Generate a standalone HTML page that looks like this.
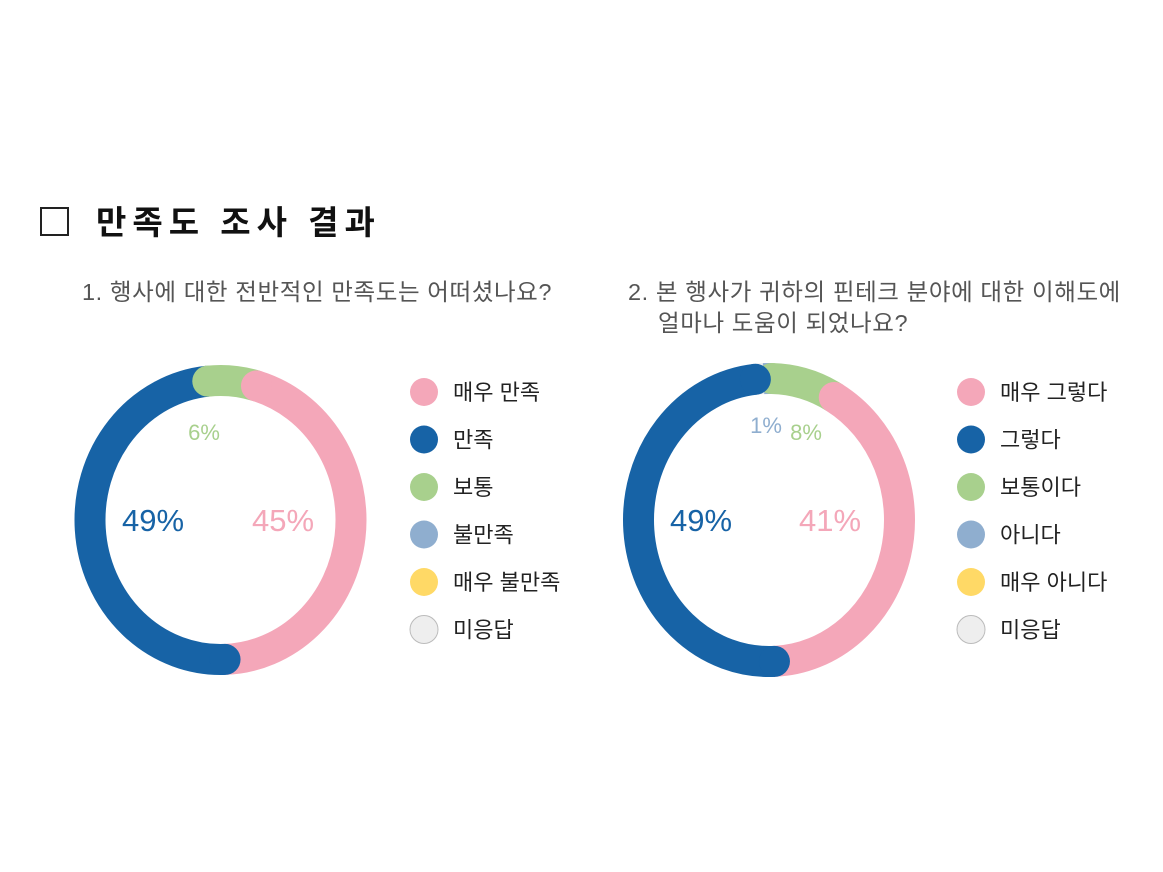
<!DOCTYPE html>
<html><head><meta charset="utf-8"><style>
body{margin:0;background:#fff;width:1163px;height:872px;overflow:hidden;font-family:"Liberation Sans","Noto Sans CJK KR",sans-serif}
</style></head><body>
<svg width="1163" height="872" xmlns="http://www.w3.org/2000/svg" style="position:absolute;left:0;top:0;font-family:'Liberation Sans','Noto Sans CJK KR',sans-serif">
<rect x="41" y="208" width="27" height="27" fill="none" stroke="#222" stroke-width="2"/>
<text x="96" y="234" font-size="33" font-weight="bold" fill="#111" letter-spacing="6">만족도 조사 결과</text>
<text x="82" y="300" font-size="23.5" fill="#555" letter-spacing="0.6">1. 행사에 대한 전반적인 만족도는 어떠셨나요?</text>
<text x="628" y="300" font-size="23.5" fill="#555" letter-spacing="0.6">2. 본 행사가 귀하의 핀테크 분야에 대한 이해도에</text>
<text x="658" y="331" font-size="23.5" fill="#555" letter-spacing="0.6">얼마나 도움이 되었나요?</text>
<g id="c1"></g>
<g id="c2"></g>
<g id="legends"></g>
</svg>
<script>
const NS="http://www.w3.org/2000/svg";
const colors=["#f4a7b9","#1763a6","#a8d08d","#8faecf","#ffd966","#eeeeee"];
const cats1=["매우 만족","만족","보통","불만족","매우 불만족","미응답"];
const vals1=[45,49,6,0,0,0];
const cats2=["매우 그렇다","그렇다","보통이다","아니다","매우 아니다","미응답"];
const vals2=[41,49,8,1,0,1];
const order2=[0,1,5,3,2];
const order1=[0,1,2];
const labels1=[{i:0,x:283,y:520},{i:1,x:153,y:520},{i:2,x:204,y:432}];
const labels2=[{i:0,x:830,y:520},{i:1,x:701,y:520},{i:3,x:766,y:425},{i:2,x:806,y:432}];
function mk(t,a,p){const e=document.createElementNS(NS,t);for(const k in a)e.setAttribute(k,a[k]);p.appendChild(e);return e;}
function pt(cx,cy,rx,ry,deg){const r=deg*Math.PI/180;return [cx+rx*Math.sin(r),cy-ry*Math.cos(r)];}
function donut(g,vals,order,cx,cy,rx,ry,start,w,labels,endCapIdx){
  const total=vals.reduce((a,b)=>a+b,0);
  let a=start;const segs=[];
  order.forEach(i=>{const sw=vals[i]/total*360;segs.push({i,a0:a,a1:a+sw});a+=sw;});
  const rmx=rx-w/2,rmy=ry-w/2;
  segs.forEach(s=>{
    const [x0,y0]=pt(cx,cy,rmx,rmy,s.a0),[x1,y1]=pt(cx,cy,rmx,rmy,s.a1);
    const large=(s.a1-s.a0)>180?1:0;
    const p=mk("path",{d:`M${x0},${y0} A${rmx},${rmy} 0 ${large} 1 ${x1},${y1}`,fill:"none",stroke:colors[s.i],"stroke-width":w},g);
    
    
  });
  segs.forEach(s=>{
    if(vals[s.i]<3)return;
    const [x0,y0]=pt(cx,cy,rmx,rmy,s.a0);
    const c=mk("circle",{cx:x0,cy:y0,r:w/2,fill:colors[s.i]},g);
    
    
  });
  segs.forEach(s=>{
    if(s.i!==endCapIdx)return;
    const [x1,y1]=pt(cx,cy,rmx,rmy,s.a1);
    const c=mk("circle",{cx:x1,cy:y1,r:w/2,fill:colors[s.i]},g);
    
    
  });
  labels.forEach(l=>{
    const big=vals[l.i]>=20;
    const t=mk("text",{x:l.x,y:l.y+(big?11:8),"text-anchor":"middle","font-size":big?31:22,fill:colors[l.i]},g);
    t.textContent=vals[l.i]+"%";
    
    
  });
}
donut(document.getElementById("c1"),vals1,order1,220.5,520,146,155,16,31,labels1,-1);
donut(document.getElementById("c2"),vals2,order2,769,520,146,157,30,31,labels2,1);
function legend(cats,x,y0){
  const g=document.getElementById("legends");
  cats.forEach((c,i)=>{
    const y=y0+i*47.5;
    const e=mk("circle",{cx:x,cy:y,r:14,fill:colors[i],stroke:i===5?"#bbb":"none","stroke-width":1},g);
    
    
    const t=mk("text",{x:x+29,y:y+8,"font-size":22,fill:"#222"},g);
    t.textContent=c;
    
    
  });
}
legend(cats1,424,392);
legend(cats2,971,392);
</script>
</body></html>
